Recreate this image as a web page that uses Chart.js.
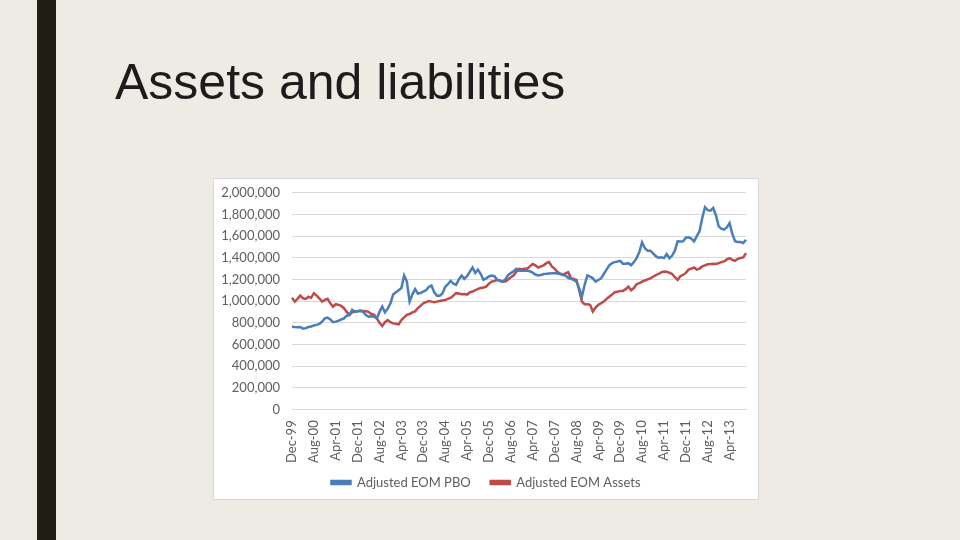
<!DOCTYPE html>
<html>
<head>
<meta charset="utf-8">
<script src="https://cdn.jsdelivr.net/npm/chart.js@4/dist/chart.umd.min.js"></script>
<style>
  body { margin: 0; width: 960px; height: 540px; background: #eeebe4; position: relative; overflow: hidden; }
  #bar { position: absolute; left: 37px; top: 0; width: 19px; height: 540px; background: #1e1e14; }
  #title { position: absolute; left: 115px; top: 52px; font-family: "Liberation Sans", Arial, sans-serif; font-size: 50px; color: #1c1c1c; line-height: 60px; }
  #box { position: absolute; left: 213px; top: 178px; width: 546px; height: 322px; background: #fff; border: 1px solid #d9d9d9; box-sizing: border-box; overflow: hidden; }
  #chart { display: block; margin-top: -6px; }
</style>
</head>
<body>
<div id="bar"></div>
<div id="title">Assets and liabilities</div>
<div id="box"><canvas id="chart" width="544" height="326"></canvas></div>
<script>
// Monthly data, Dec-99 .. Oct-13
const monthNames = ['Jan', 'Feb', 'Mar', 'Apr', 'May', 'Jun', 'Jul', 'Aug', 'Sep', 'Oct', 'Nov', 'Dec'];
const startYear = 1999, startMonth = 11; // Dec-99

const pbo = [
  763000, 760000, 758000, 760000, 745000, 750000, 760000, 765000, 775000, 780000,
  790000, 810000, 840000, 847000, 830000, 805000, 810000, 818000, 830000, 840000,
  865000, 872000, 918000, 900000, 905000, 910000, 900000, 870000, 856000, 860000,
  856000, 840000, 900000, 949000, 896000, 930000, 980000, 1060000, 1082000, 1100000,
  1120000, 1236000, 1180000, 995000, 1060000, 1110000, 1070000, 1075000, 1088000, 1100000,
  1130000, 1144000, 1080000, 1050000, 1050000, 1070000, 1130000, 1156000, 1187000, 1160000,
  1150000, 1200000, 1236000, 1205000, 1230000, 1270000, 1310000, 1260000, 1290000, 1250000,
  1196000, 1210000, 1227000, 1236000, 1230000, 1196000, 1185000, 1180000, 1200000, 1240000,
  1258000, 1275000, 1298000, 1280000, 1280000, 1282000, 1280000, 1275000, 1262000, 1245000,
  1236000, 1240000, 1250000, 1252000, 1255000, 1258000, 1258000, 1255000, 1250000, 1243000,
  1235000, 1215000, 1205000, 1195000, 1180000, 1120000, 1040000, 1150000, 1236000, 1225000,
  1210000, 1180000, 1195000, 1210000, 1250000, 1290000, 1330000, 1350000, 1360000, 1365000,
  1372000, 1345000, 1345000, 1350000, 1330000, 1360000, 1397000, 1453000, 1543000, 1490000,
  1465000, 1465000, 1440000, 1415000, 1400000, 1405000, 1397000, 1434000, 1395000, 1420000,
  1465000, 1552000, 1550000, 1552000, 1585000, 1589000, 1577000, 1552000, 1600000, 1644000,
  1768000, 1867000, 1840000, 1836000, 1860000, 1793000, 1690000, 1669000, 1660000, 1680000,
  1720000, 1620000, 1552000, 1546000, 1545000, 1536000, 1567000
];

const assets = [
  1032000, 995000, 1020000, 1050000, 1026000, 1020000, 1040000, 1030000, 1073000, 1050000,
  1026000, 995000, 1010000, 1020000, 980000, 949000, 971000, 965000, 955000, 934000,
  900000, 872000, 895000, 903000, 905000, 910000, 909000, 905000, 900000, 880000,
  872000, 841000, 800000, 770000, 805000, 825000, 805000, 794000, 790000, 785000,
  825000, 850000, 872000, 880000, 896000, 905000, 934000, 955000, 980000, 990000,
  1000000, 995000, 990000, 995000, 1000000, 1005000, 1010000, 1020000, 1030000, 1050000,
  1073000, 1070000, 1063000, 1065000, 1060000, 1080000, 1088000, 1100000, 1113000, 1120000,
  1125000, 1134000, 1160000, 1180000, 1185000, 1196000, 1190000, 1180000, 1180000, 1200000,
  1220000, 1236000, 1270000, 1298000, 1295000, 1298000, 1298000, 1320000, 1342000, 1330000,
  1310000, 1320000, 1330000, 1350000, 1360000, 1320000, 1300000, 1270000, 1255000, 1243000,
  1255000, 1267000, 1210000, 1205000, 1196000, 1100000, 995000, 971000, 970000, 965000,
  903000, 940000, 965000, 980000, 995000, 1020000, 1040000, 1060000, 1082000, 1085000,
  1094000, 1094000, 1110000, 1134000, 1100000, 1120000, 1156000, 1165000, 1180000, 1190000,
  1200000, 1210000, 1225000, 1240000, 1250000, 1265000, 1273000, 1270000, 1262000, 1250000,
  1220000, 1196000, 1230000, 1243000, 1260000, 1290000, 1300000, 1310000, 1290000, 1300000,
  1320000, 1330000, 1340000, 1342000, 1345000, 1342000, 1350000, 1360000, 1366000, 1385000,
  1397000, 1380000, 1372000, 1390000, 1397000, 1403000, 1443000
];

const labels = [];
for (let i = 0; i < pbo.length; i++) {
    const m = (startMonth + i) % 12;
    const y = startYear + Math.floor((startMonth + i) / 12);
    labels.push(monthNames[m] + '-' + String(y % 100).padStart(2, '0'));
}

const textColor = '#5e5e5e';
const gridColor = '#d9d9d9';
const font = { family: 'Lato, "Noto Sans", sans-serif', size: 13 };

const ctx = document.getElementById('chart').getContext('2d');
const chart = new Chart(ctx, {
    type: 'line',
    data: {
        labels: labels,
        datasets: [{
            label: 'Adjusted EOM PBO',
            data: pbo,
            borderColor: '#4a7ebb',
            backgroundColor: '#4a7ebb',
            borderWidth: 2.5,
            pointRadius: 0,
            tension: 0
        }, {
            label: 'Adjusted EOM Assets',
            data: assets,
            borderColor: '#be4b48',
            backgroundColor: '#be4b48',
            borderWidth: 2.5,
            pointRadius: 0,
            tension: 0
        }]
    },
    options: {
        responsive: false,
        animation: false,
        layout: { padding: { top: 0, right: 0, bottom: 0, left: 0 } },
        plugins: {
            tooltip: { enabled: false },
            legend: {
                position: 'bottom',
                labels: {
                    color: textColor,
                    font: font,
                    boxWidth: 19,
                    boxHeight: 3,
                    padding: 10,
                    generateLabels: function (c) {
                        const items = Chart.defaults.plugins.legend.labels.generateLabels(c);
                        // a bit more room between the two entries, as in the original
                        items[0].text += '\u00a0\u00a0\u00a0';
                        return items;
                    }
                }
            }
        },
        scales: {
            x: {
                grid: { display: false },
                border: { color: gridColor },
                ticks: {
                    color: textColor,
                    font: font,
                    autoSkip: false,
                    minRotation: 90,
                    maxRotation: 90,
                    padding: 3,
                    callback: function (val, i) {
                        return i % 8 === 0 ? labels[i] : null;
                    }
                }
            },
            y: {
                min: 0,
                max: 2000000,
                grid: { color: gridColor, drawTicks: false },
                border: { display: false },
                ticks: {
                    stepSize: 200000,
                    color: textColor,
                    font: font,
                    padding: 12,
                    callback: function (v) {
                        return v.toLocaleString('en-US');
                    }
                },
                afterFit: function (scale) {
                    scale.width = 78;
                }
            },
            // empty right-hand spacer so the legend stays centred on the whole box
            yRight: {
                position: 'right',
                grid: { display: false },
                border: { display: false },
                ticks: { display: false },
                afterFit: function (scale) {
                    scale.width = 12;
                }
            }
        }
    }
});
</script>
</body>
</html>
